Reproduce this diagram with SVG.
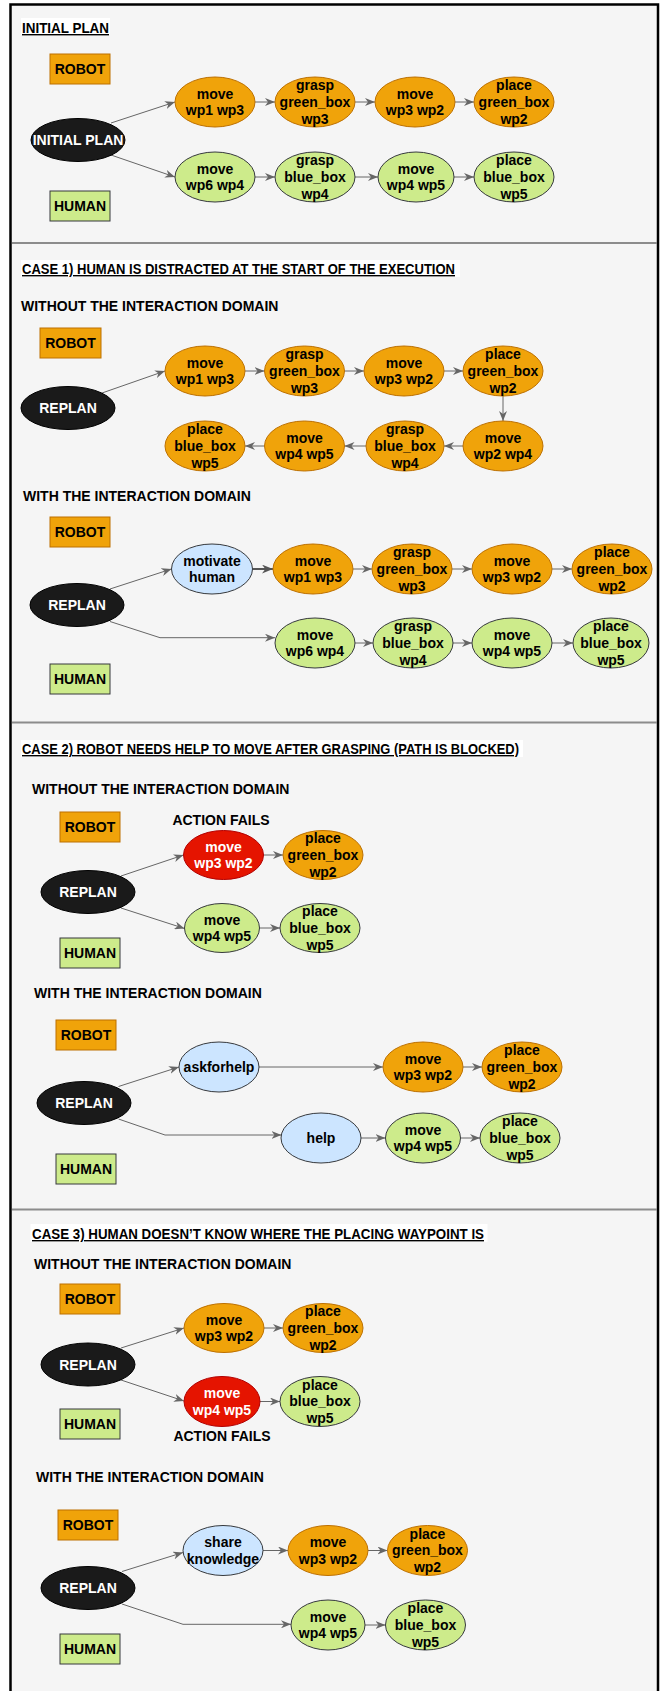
<svg xmlns="http://www.w3.org/2000/svg" width="662" height="1691" viewBox="0 0 662 1691">
<style>
.t{font-family:"Liberation Sans",Arial,Helvetica,sans-serif;font-weight:bold;font-size:14px;fill:#000}
.c{text-anchor:middle}
.w{fill:#fff}
.ttl{text-decoration:underline}
.or{fill:#f0a30a;stroke:#bd7000;stroke-width:1}
.gr{fill:#cdeb8b;stroke:#36393d;stroke-width:1}
.bl{fill:#cce5ff;stroke:#36393d;stroke-width:1}
.rd{fill:#e51400;stroke:#b20000;stroke-width:1}
.bk{fill:#1a1a1a;stroke:#000;stroke-width:1}
.e{fill:none;stroke:#666;stroke-width:1;marker-end:url(#a)}
.e2{fill:none;stroke:#555;stroke-width:2;marker-end:url(#a2)}
.sep{stroke:#8c8c8c;stroke-width:2}
</style>
<defs>
<marker id="a" viewBox="0 0 10 8" markerWidth="10" markerHeight="8" refX="10" refY="4" orient="auto" markerUnits="userSpaceOnUse"><path d="M0,0 L10,4 L0,8 L3,4 z" fill="#666"/></marker>
<marker id="a2" viewBox="0 0 10 8" markerWidth="11" markerHeight="9" refX="10" refY="4" orient="auto" markerUnits="userSpaceOnUse"><path d="M0,0 L10,4 L0,8 L3,4 z" fill="#555"/></marker>
</defs>
<rect x="0" y="0" width="662" height="1691" fill="#fff"/>
<rect x="10.5" y="4.5" width="647.5" height="1700" fill="#f5f5f5" stroke="#000" stroke-width="2.5"/>
<line class="sep" x1="12" y1="243" x2="657" y2="243"/>
<line class="sep" x1="12" y1="722.5" x2="657" y2="722.5"/>
<line class="sep" x1="12" y1="1209.5" x2="657" y2="1209.5"/>

<g id="titles">
<rect x="21" y="18" width="89" height="17" fill="#fff"/>
<text class="t ttl" x="22" y="33" textLength="87" lengthAdjust="spacingAndGlyphs">INITIAL PLAN</text>
<rect x="21" y="260" width="439" height="17" fill="#fff"/>
<text class="t ttl" x="22" y="274" textLength="433" lengthAdjust="spacingAndGlyphs">CASE 1) HUMAN IS DISTRACTED AT THE START OF THE EXECUTION</text>
<rect x="21" y="740" width="502" height="17" fill="#fff"/>
<text class="t ttl" x="22" y="754" textLength="497" lengthAdjust="spacingAndGlyphs">CASE 2) ROBOT NEEDS HELP TO MOVE AFTER GRASPING (PATH IS BLOCKED)</text>
<rect x="30.5" y="1224" width="457" height="18" fill="#fff"/>
<text class="t ttl" x="32" y="1239" textLength="452" lengthAdjust="spacingAndGlyphs">CASE 3) HUMAN DOESN’T KNOW WHERE THE PLACING WAYPOINT IS</text>
<text class="t" x="21" y="311">WITHOUT THE INTERACTION DOMAIN</text>
<text class="t" x="23" y="501">WITH THE INTERACTION DOMAIN</text>
<text class="t" x="32" y="794">WITHOUT THE INTERACTION DOMAIN</text>
<text class="t" x="34" y="998">WITH THE INTERACTION DOMAIN</text>
<text class="t" x="34" y="1269">WITHOUT THE INTERACTION DOMAIN</text>
<text class="t" x="36" y="1482">WITH THE INTERACTION DOMAIN</text>
<text class="t c" x="221" y="825">ACTION FAILS</text>
<text class="t c" x="222" y="1441">ACTION FAILS</text>
</g>

<g id="connectors">
<!-- section 1 -->
<path class="e" d="M111,123 L175,102"/>
<path class="e" d="M111,155 L175,177"/>
<path class="e" d="M255,102 L275,102"/>
<path class="e" d="M355,102 L375,102"/>
<path class="e" d="M455,102 L474,102"/>
<path class="e" d="M255,177 L275,177"/>
<path class="e" d="M355,177 L378,177"/>
<path class="e" d="M454,177 L474,177"/>
<!-- section 2a -->
<path class="e" d="M102,393 L165,371"/>
<path class="e" d="M245,371 L264.5,371"/>
<path class="e" d="M344.5,371 L364,371"/>
<path class="e" d="M444,371 L463,371"/>
<path class="e" d="M503,396 L503,421"/>
<path class="e" d="M463,446 L444,446"/>
<path class="e" d="M366,446 L344.5,446"/>
<path class="e" d="M264.5,446 L245,446"/>
<!-- section 2b -->
<path class="e" d="M110,589 L171.5,569"/>
<path class="e2" d="M252.5,569 L273,569"/>
<path class="e" d="M353,569 L372,569"/>
<path class="e" d="M452,569 L472,569"/>
<path class="e" d="M552,569 L572,569"/>
<path class="e" d="M110,621.5 L160,637.7 L275,637.7"/>
<path class="e" d="M355,643 L373,643"/>
<path class="e" d="M453,643 L472,643"/>
<path class="e" d="M552,643 L573,643"/>
<!-- section 3a -->
<path class="e" d="M121,876 L183.5,855"/>
<path class="e" d="M121,908 L184.5,928.5"/>
<path class="e" d="M263.5,855 L283,855"/>
<path class="e" d="M259.5,928 L280,928"/>
<!-- section 3b -->
<path class="e" d="M118.5,1086.5 L179,1067"/>
<path class="e" d="M259,1067 L383,1067"/>
<path class="e" d="M463,1067 L482,1067"/>
<path class="e" d="M118.5,1119 L165,1135 L281.5,1135"/>
<path class="e" d="M361,1138 L385.5,1138"/>
<path class="e" d="M460.5,1138 L480,1138"/>
<!-- section 4a -->
<path class="e" d="M121,1348 L184,1328"/>
<path class="e" d="M121,1380 L184,1401"/>
<path class="e" d="M264,1328 L283,1328"/>
<path class="e" d="M260,1401.5 L280,1401.5"/>
<!-- section 4b -->
<path class="e" d="M122,1571.5 L183,1552.5"/>
<path class="e" d="M263,1550.5 L288,1550.5"/>
<path class="e" d="M368,1550.5 L387.5,1550.5"/>
<path class="e" d="M122,1604 L183,1624.3 L291,1624.3"/>
<path class="e" d="M365,1625 L385.5,1625"/>
</g>

<!-- ===== Section 1 ===== -->
<g id="s1-robot"><rect class="or" x="50" y="54" width="60" height="30"/><text class="t c" x="80" y="74">ROBOT</text></g>
<g id="s1-human"><rect class="gr" x="50" y="191" width="60" height="30"/><text class="t c" x="80" y="211">HUMAN</text></g>
<g id="s1-initial"><ellipse class="bk" cx="78" cy="140" rx="47" ry="21.5"/><text class="t c w" x="78" y="145">INITIAL PLAN</text></g>
<g id="s1-o1"><ellipse class="or" cx="215" cy="102" rx="40" ry="25"/><text class="t c"><tspan x="215" y="98.6">move</tspan><tspan x="215" y="115.4">wp1 wp3</tspan></text></g>
<g id="s1-o2"><ellipse class="or" cx="315" cy="102" rx="40" ry="25"/><text class="t c"><tspan x="315" y="90">grasp</tspan><tspan x="315" y="106.8">green_box</tspan><tspan x="315" y="123.6">wp3</tspan></text></g>
<g id="s1-o3"><ellipse class="or" cx="415" cy="102" rx="40" ry="25"/><text class="t c"><tspan x="415" y="98.6">move</tspan><tspan x="415" y="115.4">wp3 wp2</tspan></text></g>
<g id="s1-o4"><ellipse class="or" cx="514" cy="102" rx="40" ry="25"/><text class="t c"><tspan x="514" y="90">place</tspan><tspan x="514" y="106.8">green_box</tspan><tspan x="514" y="123.6">wp2</tspan></text></g>
<g id="s1-g1"><ellipse class="gr" cx="215" cy="177" rx="40" ry="25"/><text class="t c"><tspan x="215" y="173.6">move</tspan><tspan x="215" y="190.4">wp6 wp4</tspan></text></g>
<g id="s1-g2"><ellipse class="gr" cx="315" cy="177" rx="40" ry="25"/><text class="t c"><tspan x="315" y="165">grasp</tspan><tspan x="315" y="181.8">blue_box</tspan><tspan x="315" y="198.6">wp4</tspan></text></g>
<g id="s1-g3"><ellipse class="gr" cx="416" cy="177" rx="38" ry="25"/><text class="t c"><tspan x="416" y="173.6">move</tspan><tspan x="416" y="190.4">wp4 wp5</tspan></text></g>
<g id="s1-g4"><ellipse class="gr" cx="514" cy="177" rx="40" ry="25"/><text class="t c"><tspan x="514" y="165">place</tspan><tspan x="514" y="181.8">blue_box</tspan><tspan x="514" y="198.6">wp5</tspan></text></g>

<!-- ===== Section 2a ===== -->
<g id="s2a-robot"><rect class="or" x="40" y="328" width="61" height="30"/><text class="t c" x="70.5" y="348">ROBOT</text></g>
<g id="s2a-replan"><ellipse class="bk" cx="68" cy="408" rx="47" ry="21.5"/><text class="t c w" x="68" y="413">REPLAN</text></g>
<g id="s2a-o1"><ellipse class="or" cx="205" cy="371" rx="40" ry="25"/><text class="t c"><tspan x="205" y="367.6">move</tspan><tspan x="205" y="384.4">wp1 wp3</tspan></text></g>
<g id="s2a-o2"><ellipse class="or" cx="304.5" cy="371" rx="40" ry="25"/><text class="t c"><tspan x="304.5" y="359">grasp</tspan><tspan x="304.5" y="375.8">green_box</tspan><tspan x="304.5" y="392.6">wp3</tspan></text></g>
<g id="s2a-o3"><ellipse class="or" cx="404" cy="371" rx="40" ry="25"/><text class="t c"><tspan x="404" y="367.6">move</tspan><tspan x="404" y="384.4">wp3 wp2</tspan></text></g>
<g id="s2a-o4"><ellipse class="or" cx="503" cy="371" rx="40" ry="25"/><text class="t c"><tspan x="503" y="359">place</tspan><tspan x="503" y="375.8">green_box</tspan><tspan x="503" y="392.6">wp2</tspan></text></g>
<g id="s2a-o5"><ellipse class="or" cx="503" cy="446" rx="40" ry="25"/><text class="t c"><tspan x="503" y="442.6">move</tspan><tspan x="503" y="459.4">wp2 wp4</tspan></text></g>
<g id="s2a-o6"><ellipse class="or" cx="405" cy="446" rx="39" ry="25"/><text class="t c"><tspan x="405" y="434">grasp</tspan><tspan x="405" y="450.8">blue_box</tspan><tspan x="405" y="467.6">wp4</tspan></text></g>
<g id="s2a-o7"><ellipse class="or" cx="304.5" cy="446" rx="40" ry="25"/><text class="t c"><tspan x="304.5" y="442.6">move</tspan><tspan x="304.5" y="459.4">wp4 wp5</tspan></text></g>
<g id="s2a-o8"><ellipse class="or" cx="205" cy="446" rx="40" ry="25"/><text class="t c"><tspan x="205" y="434">place</tspan><tspan x="205" y="450.8">blue_box</tspan><tspan x="205" y="467.6">wp5</tspan></text></g>

<!-- ===== Section 2b ===== -->
<g id="s2b-robot"><rect class="or" x="50" y="517" width="60" height="30"/><text class="t c" x="80" y="537">ROBOT</text></g>
<g id="s2b-human"><rect class="gr" x="50" y="664" width="60" height="30"/><text class="t c" x="80" y="684">HUMAN</text></g>
<g id="s2b-replan"><ellipse class="bk" cx="77" cy="605" rx="47" ry="21.5"/><text class="t c w" x="77" y="610">REPLAN</text></g>
<g id="s2b-motivate"><ellipse class="bl" cx="212" cy="569" rx="40.5" ry="25"/><text class="t c"><tspan x="212" y="565.6">motivate</tspan><tspan x="212" y="582.4">human</tspan></text></g>
<g id="s2b-o1"><ellipse class="or" cx="313" cy="569" rx="40" ry="25"/><text class="t c"><tspan x="313" y="565.6">move</tspan><tspan x="313" y="582.4">wp1 wp3</tspan></text></g>
<g id="s2b-o2"><ellipse class="or" cx="412" cy="569" rx="40" ry="25"/><text class="t c"><tspan x="412" y="557">grasp</tspan><tspan x="412" y="573.8">green_box</tspan><tspan x="412" y="590.6">wp3</tspan></text></g>
<g id="s2b-o3"><ellipse class="or" cx="512" cy="569" rx="40" ry="25"/><text class="t c"><tspan x="512" y="565.6">move</tspan><tspan x="512" y="582.4">wp3 wp2</tspan></text></g>
<g id="s2b-o4"><ellipse class="or" cx="612" cy="569" rx="40" ry="25"/><text class="t c"><tspan x="612" y="557">place</tspan><tspan x="612" y="573.8">green_box</tspan><tspan x="612" y="590.6">wp2</tspan></text></g>
<g id="s2b-g1"><ellipse class="gr" cx="315" cy="643" rx="40" ry="25"/><text class="t c"><tspan x="315" y="639.6">move</tspan><tspan x="315" y="656.4">wp6 wp4</tspan></text></g>
<g id="s2b-g2"><ellipse class="gr" cx="413" cy="643" rx="40" ry="25"/><text class="t c"><tspan x="413" y="631">grasp</tspan><tspan x="413" y="647.8">blue_box</tspan><tspan x="413" y="664.6">wp4</tspan></text></g>
<g id="s2b-g3"><ellipse class="gr" cx="512" cy="643" rx="40" ry="25"/><text class="t c"><tspan x="512" y="639.6">move</tspan><tspan x="512" y="656.4">wp4 wp5</tspan></text></g>
<g id="s2b-g4"><ellipse class="gr" cx="611" cy="643" rx="38" ry="25"/><text class="t c"><tspan x="611" y="631">place</tspan><tspan x="611" y="647.8">blue_box</tspan><tspan x="611" y="664.6">wp5</tspan></text></g>

<!-- ===== Section 3a ===== -->
<g id="s3a-robot"><rect class="or" x="60" y="812" width="60" height="30"/><text class="t c" x="90" y="832">ROBOT</text></g>
<g id="s3a-human"><rect class="gr" x="60" y="938" width="60" height="30"/><text class="t c" x="90" y="958">HUMAN</text></g>
<g id="s3a-replan"><ellipse class="bk" cx="88" cy="892" rx="47" ry="21.5"/><text class="t c w" x="88" y="897">REPLAN</text></g>
<g id="s3a-r1"><ellipse class="rd" cx="223.5" cy="855" rx="40" ry="24.5"/><text class="t c w"><tspan x="223.5" y="851.6">move</tspan><tspan x="223.5" y="868.4">wp3 wp2</tspan></text></g>
<g id="s3a-o1"><ellipse class="or" cx="323" cy="855" rx="40" ry="24.5"/><text class="t c"><tspan x="323" y="843">place</tspan><tspan x="323" y="859.8">green_box</tspan><tspan x="323" y="876.6">wp2</tspan></text></g>
<g id="s3a-g1"><ellipse class="gr" cx="222" cy="928" rx="37.5" ry="24.5"/><text class="t c"><tspan x="222" y="924.6">move</tspan><tspan x="222" y="941.4">wp4 wp5</tspan></text></g>
<g id="s3a-g2"><ellipse class="gr" cx="320" cy="928" rx="40" ry="24.5"/><text class="t c"><tspan x="320" y="916">place</tspan><tspan x="320" y="932.8">blue_box</tspan><tspan x="320" y="949.6">wp5</tspan></text></g>

<!-- ===== Section 3b ===== -->
<g id="s3b-robot"><rect class="or" x="56" y="1020" width="60" height="30"/><text class="t c" x="86" y="1040">ROBOT</text></g>
<g id="s3b-human"><rect class="gr" x="56" y="1154" width="60" height="30"/><text class="t c" x="86" y="1174">HUMAN</text></g>
<g id="s3b-replan"><ellipse class="bk" cx="84" cy="1103" rx="47" ry="21.5"/><text class="t c w" x="84" y="1108">REPLAN</text></g>
<g id="s3b-ask"><ellipse class="bl" cx="219" cy="1067" rx="40" ry="25"/><text class="t c" x="219" y="1072">askforhelp</text></g>
<g id="s3b-o1"><ellipse class="or" cx="423" cy="1067" rx="40" ry="25"/><text class="t c"><tspan x="423" y="1063.6">move</tspan><tspan x="423" y="1080.4">wp3 wp2</tspan></text></g>
<g id="s3b-o2"><ellipse class="or" cx="522" cy="1067" rx="40" ry="25"/><text class="t c"><tspan x="522" y="1055">place</tspan><tspan x="522" y="1071.8">green_box</tspan><tspan x="522" y="1088.6">wp2</tspan></text></g>
<g id="s3b-help"><ellipse class="bl" cx="321" cy="1138" rx="40" ry="25"/><text class="t c" x="321" y="1143">help</text></g>
<g id="s3b-g1"><ellipse class="gr" cx="423" cy="1138" rx="37.5" ry="25"/><text class="t c"><tspan x="423" y="1134.6">move</tspan><tspan x="423" y="1151.4">wp4 wp5</tspan></text></g>
<g id="s3b-g2"><ellipse class="gr" cx="520" cy="1138" rx="40" ry="25"/><text class="t c"><tspan x="520" y="1126">place</tspan><tspan x="520" y="1142.8">blue_box</tspan><tspan x="520" y="1159.6">wp5</tspan></text></g>

<!-- ===== Section 4a ===== -->
<g id="s4a-robot"><rect class="or" x="60" y="1284" width="60" height="30"/><text class="t c" x="90" y="1304">ROBOT</text></g>
<g id="s4a-human"><rect class="gr" x="60" y="1409" width="60" height="30"/><text class="t c" x="90" y="1429">HUMAN</text></g>
<g id="s4a-replan"><ellipse class="bk" cx="88" cy="1364.5" rx="47" ry="21.5"/><text class="t c w" x="88" y="1369.5">REPLAN</text></g>
<g id="s4a-o1"><ellipse class="or" cx="224" cy="1328" rx="40" ry="24.5"/><text class="t c"><tspan x="224" y="1324.6">move</tspan><tspan x="224" y="1341.4">wp3 wp2</tspan></text></g>
<g id="s4a-o2"><ellipse class="or" cx="323" cy="1328" rx="40" ry="24.5"/><text class="t c"><tspan x="323" y="1316">place</tspan><tspan x="323" y="1332.8">green_box</tspan><tspan x="323" y="1349.6">wp2</tspan></text></g>
<g id="s4a-r1"><ellipse class="rd" cx="222" cy="1401.5" rx="38" ry="25"/><text class="t c w"><tspan x="222" y="1398.1">move</tspan><tspan x="222" y="1414.9">wp4 wp5</tspan></text></g>
<g id="s4a-g1"><ellipse class="gr" cx="320" cy="1401.5" rx="40" ry="25"/><text class="t c"><tspan x="320" y="1389.5">place</tspan><tspan x="320" y="1406.3">blue_box</tspan><tspan x="320" y="1423.1">wp5</tspan></text></g>

<!-- ===== Section 4b ===== -->
<g id="s4b-robot"><rect class="or" x="58" y="1510" width="60" height="30"/><text class="t c" x="88" y="1530">ROBOT</text></g>
<g id="s4b-human"><rect class="gr" x="60" y="1634" width="60" height="30"/><text class="t c" x="90" y="1654">HUMAN</text></g>
<g id="s4b-replan"><ellipse class="bk" cx="88" cy="1588" rx="47" ry="21.5"/><text class="t c w" x="88" y="1593">REPLAN</text></g>
<g id="s4b-share"><ellipse class="bl" cx="223" cy="1550.5" rx="40" ry="25"/><text class="t c"><tspan x="223" y="1547.1">share</tspan><tspan x="223" y="1563.9">knowledge</tspan></text></g>
<g id="s4b-o1"><ellipse class="or" cx="328" cy="1550.5" rx="40" ry="25"/><text class="t c"><tspan x="328" y="1547.1">move</tspan><tspan x="328" y="1563.9">wp3 wp2</tspan></text></g>
<g id="s4b-o2"><ellipse class="or" cx="427.5" cy="1550.5" rx="40" ry="25"/><text class="t c"><tspan x="427.5" y="1538.5">place</tspan><tspan x="427.5" y="1555.3">green_box</tspan><tspan x="427.5" y="1572.1">wp2</tspan></text></g>
<g id="s4b-g1"><ellipse class="gr" cx="328" cy="1625" rx="37" ry="25"/><text class="t c"><tspan x="328" y="1621.6">move</tspan><tspan x="328" y="1638.4">wp4 wp5</tspan></text></g>
<g id="s4b-g2"><ellipse class="gr" cx="425.5" cy="1625" rx="40" ry="25"/><text class="t c"><tspan x="425.5" y="1613">place</tspan><tspan x="425.5" y="1629.8">blue_box</tspan><tspan x="425.5" y="1646.6">wp5</tspan></text></g>
</svg>
